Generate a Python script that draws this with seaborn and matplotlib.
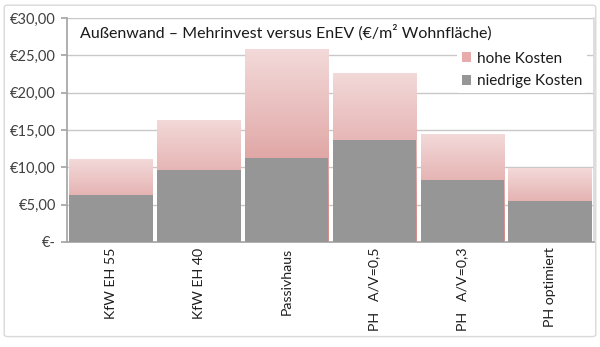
import numpy as np
import pandas as pd
import matplotlib
matplotlib.use("Agg")
import matplotlib.pyplot as plt
from matplotlib.colors import LinearSegmentedColormap
from matplotlib.patches import Patch, FancyBboxPatch
import seaborn as sns

categories = ["KfW EH 55", "KfW EH 40", "Passivhaus", "PH   A/V=0,5", "PH   A/V=0,3", "PH optimiert"]
low_cost = [6.3, 9.6, 11.2, 13.6, 8.3, 5.5]
high_cost = [11.1, 16.4, 25.8, 22.7, 14.4, 9.9]
y_ticks = [0, 5, 10, 15, 20, 25, 30]
y_tick_labels = ["€-", "€5,00", "€10,00", "€15,00", "€20,00", "€25,00", "€30,00"]

df = pd.DataFrame({"Kategorie": categories, "niedrig": low_cost, "hoch": high_cost})

sns.set_theme(style="white")
plt.rcParams["font.family"] = ["Lato", "DejaVu Sans"]

fig = plt.figure(figsize=(6.0, 3.47), dpi=100)
ax = fig.add_axes([0.112, 0.3026, 0.878, 0.6455])

# outer frame of the chart
fig.patches.append(FancyBboxPatch((0.007, 0.03), 0.986, 0.955, boxstyle="round,pad=0,rounding_size=0.006",
                                  transform=fig.transFigure, facecolor="none", edgecolor="#D9D9D9", lw=1.0))

# upper bound bars (filled with a gradient afterwards)
sns.barplot(data=df, x="Kategorie", y="hoch", color="#E8B4B3", width=0.95, linewidth=0, ax=ax, zorder=2)
cmap = LinearSegmentedColormap.from_list(
    "rosa", [(0.0, "#D68B88"), (0.25, "#D99593"), (0.6, "#E6B7B6"), (1.0, "#F3D9D9")])
grad = np.linspace(0, 1, 256).reshape(-1, 1)
for patch in list(ax.patches):
    x0, y0 = patch.get_x(), patch.get_y()
    w, h = patch.get_width(), patch.get_height()
    patch.set_facecolor("none")
    patch.set_edgecolor("none")
    im = ax.imshow(grad, cmap=cmap, origin="lower", aspect="auto", extent=[x0, x0 + w, y0, y0 + h], zorder=2)
    im.set_clip_path(patch)

# lower bound bars
sns.barplot(data=df, x="Kategorie", y="niedrig", color="#969696", width=0.95, linewidth=0, ax=ax, zorder=3)

ax.set_xlim(-0.5, len(categories) - 0.5)
ax.set_ylim(0, 30)
ax.set_yticks(y_ticks)
ax.set_yticklabels(y_tick_labels, fontsize=10.5, color="#404040")
ax.set_xticks(range(len(categories)))
ax.set_xticklabels(categories, rotation=90, fontsize=10.2, color="#202020")
ax.set_xlabel("")
ax.set_ylabel("")
ax.yaxis.grid(True, color="#C8C8C8", lw=1.0, zorder=0)
ax.set_axisbelow(True)

ax.spines["top"].set_visible(False)
ax.spines["right"].set_color("#D9D9D9")
ax.spines["left"].set_color("#A6A6A6")
ax.spines["bottom"].set_color("#A6A6A6")

# category boundary ticks on the x axis
ax.set_xticks(np.arange(-0.5, len(categories)), minor=True)
ax.tick_params(axis="x", which="major", length=0, pad=4)
ax.tick_params(axis="x", which="minor", length=5, color="#A6A6A6", direction="out")
ax.tick_params(axis="y", which="major", length=4, color="#A6A6A6", direction="out", left=True, pad=4)

ax.text(0.025, 0.935, "Außenwand – Mehrinvest versus EnEV (€/m² Wohnfläche)", transform=ax.transAxes,
        fontsize=11.5, color="#1A1A1A", va="center", ha="left", zorder=5)

handles = [Patch(facecolor="#E6ABAA", edgecolor="none"), Patch(facecolor="#969696", edgecolor="none")]
leg = ax.legend(handles, ["hohe Kosten", "niedrige Kosten"], loc="upper left", bbox_to_anchor=(0.74, 0.87),
                frameon=True, fontsize=11, handlelength=0.6, handleheight=0.6, handletextpad=0.4,
                labelspacing=0.55, borderpad=0.3, borderaxespad=0)
leg.get_frame().set_facecolor("white")
leg.get_frame().set_edgecolor("none")
leg.get_frame().set_alpha(1)
leg.set_zorder(6)
for t in leg.get_texts():
    t.set_color("#1A1A1A")

fig.savefig("out.png", dpi=100)
